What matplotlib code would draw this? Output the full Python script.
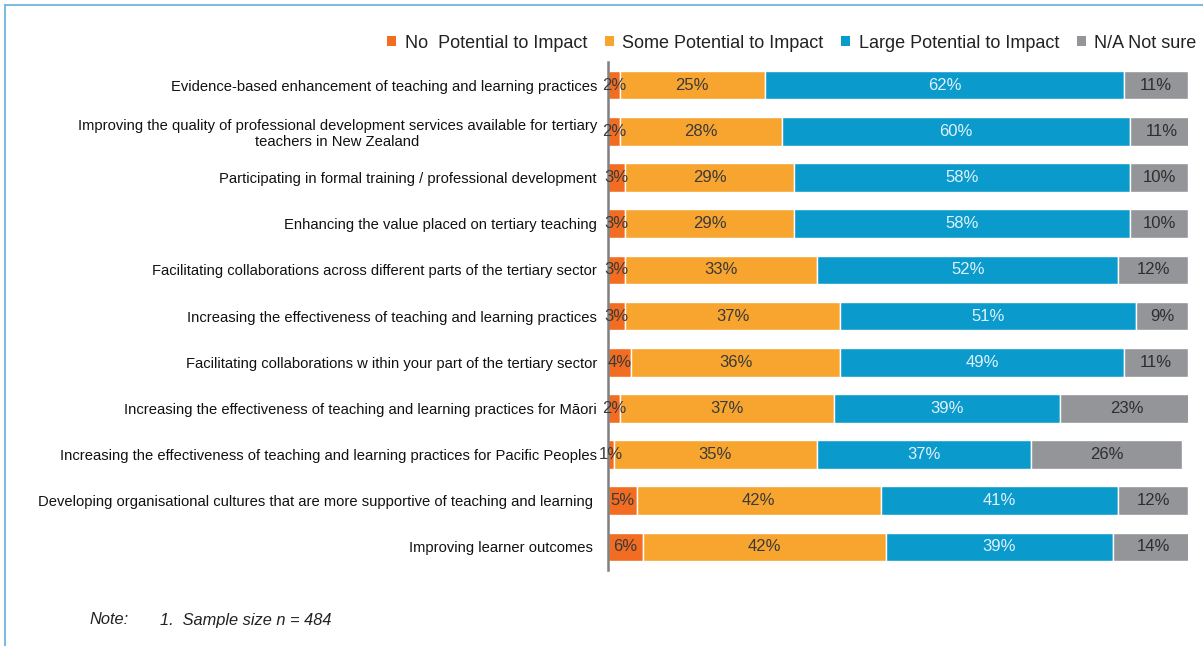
import numpy as np
import matplotlib.pyplot as plt
from matplotlib.patches import Patch

plt.rcParams['font.family'] = ['Liberation Sans', 'DejaVu Sans']

labels = [
    "Evidence-based enhancement of teaching and learning practices",
    "Improving the quality of professional development services available for tertiary\nteachers in New Zealand",
    "Participating in formal training / professional development",
    "Enhancing the value placed on tertiary teaching",
    "Facilitating collaborations across different parts of the tertiary sector",
    "Increasing the effectiveness of teaching and learning practices",
    "Facilitating collaborations w ithin your part of the tertiary sector",
    "Increasing the effectiveness of teaching and learning practices for Māori",
    "Increasing the effectiveness of teaching and learning practices for Pacific Peoples",
    "Developing organisational cultures that are more supportive of teaching and learning ",
    "Improving learner outcomes ",
]
no_impact = [2, 2, 3, 3, 3, 3, 4, 2, 1, 5, 6]
some_impact = [25, 28, 29, 29, 33, 37, 36, 37, 35, 42, 42]
large_impact = [62, 60, 58, 58, 52, 51, 49, 39, 37, 41, 39]
not_sure = [11, 11, 10, 10, 12, 9, 11, 23, 26, 12, 14]

series = [
    ("No  Potential to Impact", no_impact, "#f26d21", "#3a3a3a"),
    ("Some Potential to Impact", some_impact, "#f8a530", "#3a3a3a"),
    ("Large Potential to Impact", large_impact, "#0a9bcc", "#dff1fa"),
    ("N/A Not sure", not_sure, "#939598", "#2e2e2e"),
]

fig = plt.figure(figsize=(12.03, 6.46), dpi=100)
ax = fig.add_axes([0.5054, 0.1176, 0.4822, 0.7864])

y = np.arange(len(labels))
left = np.zeros(len(labels))
handles = []
for name, vals, color, tcolor in series:
    vals = np.array(vals, dtype=float)
    bars = ax.barh(y, vals, left=left, height=0.62, color=color,
                   edgecolor="white", linewidth=1.0)
    for b, v in zip(bars, vals):
        ax.text(b.get_x() + b.get_width() / 2, b.get_y() + b.get_height() / 2,
                f"{int(v)}%", ha="center", va="center", fontsize=12,
                color=tcolor)
    left += vals
    handles.append(Patch(facecolor=color, edgecolor="none", label=name))

ax.set_xlim(0, 100)
ax.set_ylim(len(labels) - 0.5, -0.5)
ax.set_yticks(y)
ax.set_yticklabels(labels, fontsize=10.6, color="#111111", multialignment="center")
ax.tick_params(axis="y", length=0, pad=8)
ax.set_xticks([])
for s in ["top", "right", "bottom"]:
    ax.spines[s].set_visible(False)
ax.spines["left"].set_color("#808080")
ax.spines["left"].set_linewidth(1.8)

fig.legend(handles=handles, loc="center left", ncol=4,
           bbox_to_anchor=(0.3085, 1 - 43 / 646), frameon=False,
           fontsize=13, handlelength=0.5, handleheight=0.5,
           handletextpad=0.45, columnspacing=1.0, labelcolor="#222222")

fig.text(90 / 1203, 1 - 620 / 646, "Note:", fontsize=11.8, style="italic",
         va="center", color="#222222")
fig.text(160 / 1203, 1 - 620 / 646, "1.  Sample size n = 484", fontsize=11.8,
         style="italic", va="center", color="#222222")

# light blue frame along the top and left edges
fig.add_artist(plt.Line2D([5 / 1203, 5 / 1203], [0, 1 - 5 / 646],
                          color="#7fbbe0", linewidth=1.5))
fig.add_artist(plt.Line2D([5 / 1203, 1], [1 - 5 / 646, 1 - 5 / 646],
                          color="#7fbbe0", linewidth=1.5))

fig.savefig("out.png", dpi=100)
